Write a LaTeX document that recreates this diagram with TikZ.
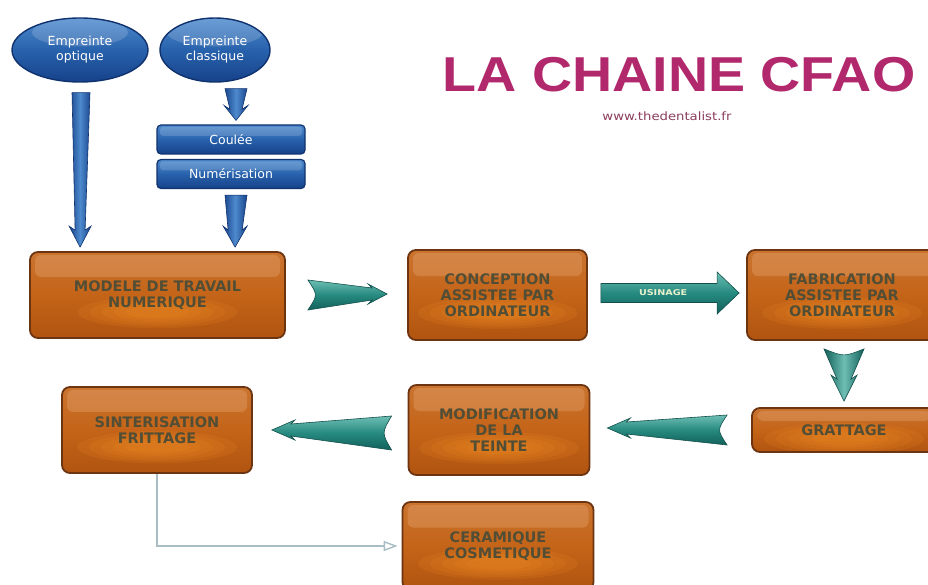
\documentclass[tikz,border=0pt]{standalone}
\usepackage{fontspec}
\setmainfont{Liberation Sans}
\newfontfamily\dvs{DejaVu Sans}
\usetikzlibrary{shapes.geometric,calc,arrows.meta}
\definecolor{oTop}{RGB}{202,116,48}
\definecolor{oMid}{RGB}{196,100,24}
\definecolor{oBot}{RGB}{176,84,16}
\definecolor{oEdge}{RGB}{108,52,16}
\definecolor{oGlow}{RGB}{240,140,36}
\definecolor{oGloss}{RGB}{232,170,120}
\definecolor{oText}{RGB}{82,78,54}
\definecolor{bLight}{RGB}{78,138,205}
\definecolor{bMid}{RGB}{40,98,172}
\definecolor{bDark}{RGB}{22,66,138}
\definecolor{bEdge}{RGB}{16,50,110}
\definecolor{tLight}{RGB}{110,190,180}
\definecolor{tMid}{RGB}{38,138,128}
\definecolor{tDark}{RGB}{18,96,90}
\definecolor{tEdge}{RGB}{20,80,75}
\definecolor{titleC}{RGB}{178,40,108}
\definecolor{urlC}{RGB}{140,62,92}
\definecolor{connC}{RGB}{168,190,196}
\definecolor{usiC}{RGB}{232,240,205}
\newcommand\htaperarrow[8]{%
  \shadedraw[#1] ($(#2)+(0,-#4)$) -- ($(#3)+({-1*(#8)*(#7)},-#5)$)
   -- ($(#3)+({-1*(#8)*(#7+4)},-#6)$) -- (#3)
   -- ($(#3)+({-1*(#8)*(#7+4)},#6)$) -- ($(#3)+({-1*(#8)*(#7)},#5)$)
   -- ($(#2)+(0,#4)$) .. controls ($(#2)+({10*(#8)},0)$) .. ($(#2)+(0,-#4)$) -- cycle;}
\newcommand\vtaperarrow[8]{%
  \shadedraw[#1] ($(#2)+(-#4,0)$) .. controls ($(#2)+(0,#8)$) .. ($(#2)+(#4,0)$)
   -- ($(#3)+(#5,-#7)$) -- ($(#3)+(#6,{-(#7+4)})$) -- (#3)
   -- ($(#3)+(-#6,{-(#7+4)})$) -- ($(#3)+(-#5,-#7)$) -- cycle;}
\tikzset{
  obox/.style={rectangle, rounded corners=8pt, draw=oEdge, line width=1.8pt,
    top color=oTop, bottom color=oBot, middle color=oMid, text=oText,
    font=\fontsize{14.5}{16}\selectfont\dvs\bfseries, align=center, inner sep=0pt,
    path picture={
      \coordinate (gc) at ($(path picture bounding box.south)!0.3!(path picture bounding box.north)$);
      \foreach \r in {1.0,0.85,0.7,0.55,0.4}
        \fill[oGlow, opacity=0.16] (gc) ellipse [x radius=80*\r, y radius=16*\r];
      \fill[oGloss, opacity=0.35, rounded corners=6pt]
        ($(path picture bounding box.north west)+(5,3)$) rectangle
        ($(path picture bounding box.east)!0.42!(path picture bounding box.north east)+(-5,0)$);
    }},
  bell/.style={ellipse, draw=bEdge, line width=1.4pt, top color=bLight, bottom color=bDark,
    middle color=bMid, text=white, font=\fontsize{12.5}{15}\selectfont\dvs, align=center, inner sep=1pt,
    path picture={
      \fill[white, opacity=0.16]
        ($(path picture bounding box.north)!0.45!(path picture bounding box.center)$)
        ellipse [x radius=48, y radius=14];
    }},
  bbox/.style={rectangle, rounded corners=4pt, draw=bEdge, line width=1.2pt,
    top color=bLight, bottom color=bDark, middle color=bMid, text=white,
    font=\fontsize{12.5}{15}\selectfont\dvs, inner sep=0pt,
    path picture={
      \fill[white, opacity=0.16, rounded corners=3pt]
        ($(path picture bounding box.north west)+(3,2)$) rectangle
        ($(path picture bounding box.east)!0.25!(path picture bounding box.north east)+(-3,0)$);
    }},
  barrow/.style={draw=bEdge, line width=0.6pt, left color=bDark, right color=bDark, middle color=bLight},
  tharrow/.style={draw=tEdge, line width=0.6pt, top color=tLight, bottom color=tDark, middle color=tMid},
  tvarrow/.style={draw=tEdge, line width=0.6pt, left color=tDark, right color=tDark, middle color=tLight},
  thinconn/.style={draw=connC, line width=1.6pt, -{Triangle[open, length=14pt, width=10pt, line width=1.4pt]}, shorten >=4pt}
}
\begin{document}
\begin{tikzpicture}[x=1pt, y=-1pt]
\fill[white] (0,0) rectangle (928,585);
\useasboundingbox (0,0) rectangle (928,585);

% title
\node[anchor=base, text=titleC, font=\fontsize{49}{55}\selectfont\bfseries, inner sep=0pt] (title) at (679,92) {\scalebox{1.135}[1]{LA CHAINE CFAO}};
\node[anchor=base, text=urlC, font=\fontsize{11.5}{13}\selectfont\dvs, inner sep=0pt] (url) at (667,121) {\scalebox{1.15}[1]{www.thedentalist.fr}};

% blue part
\node[bell, minimum width=136, minimum height=64] (ell1) at (80,50) {Empreinte\\optique};
\node[bell, minimum width=110, minimum height=64] (ell2) at (215,50) {Empreinte\\classique};
\node[bbox, minimum width=148, minimum height=29] (coulee) at (231,139.5) {Coulée};
\node[bbox, minimum width=148, minimum height=29] (numer) at (231,174) {Numérisation};

% orange boxes
\node[obox, minimum width=255, minimum height=86] (modele) at (157.5,295) {MODELE DE TRAVAIL\\NUMERIQUE};
\node[obox, minimum width=179, minimum height=90] (concep) at (497.5,295) {CONCEPTION\\ASSISTEE PAR\\ORDINATEUR};
\node[obox, minimum width=190, minimum height=90] (fab) at (842,295) {FABRICATION\\ASSISTEE PAR\\ORDINATEUR};
\node[obox, minimum width=184, minimum height=44] (gratt) at (844,430) {GRATTAGE};
\node[obox, minimum width=181, minimum height=90] (modif) at (499,430) {MODIFICATION\\DE LA\\TEINTE};
\node[obox, minimum width=190, minimum height=86] (sinter) at (157,430) {SINTERISATION\\FRITTAGE};
\node[obox, minimum width=191, minimum height=88] (ceram) at (498,546) {CERAMIQUE\\COSMETIQUE};

% blue arrows
\coordinate (b1t) at ($(ell1.south)+(1,10)$);
\coordinate (b1h) at ($(modele.north west)+(51,-4)$);
\vtaperarrow{barrow}{b1t}{b1h}{9}{5}{11}{17}{0}
\coordinate (b2t) at ($(ell2.south)+(21,6)$);
\coordinate (b2h) at ($(coulee.north)+(5,-4)$);
\vtaperarrow{barrow}{b2t}{b2h}{11}{6}{12}{11}{0}
\coordinate (b3t) at ($(numer.south)+(5,6)$);
\coordinate (b3h) at ($(modele.north west)+(206,-4)$);
\vtaperarrow{barrow}{b3t}{b3h}{11}{7}{12}{17}{0}

% teal arrows
\coordinate (a1t) at ($(modele.east)+(22,0)$);
\coordinate (a1h) at ($(concep.west)+(-20,-1)$);
\htaperarrow{tharrow}{a1t}{a1h}{15}{6}{10}{15}{1}

\coordinate (a2t) at ($(concep.east)+(13,-2)$);
\coordinate (a2h) at ($(fab.west)+(-7,-2)$);
\shadedraw[tharrow] ($(a2t)+(0,-9.5)$) -- ($(a2h)+(-22,-9.5)$) -- ($(a2h)+(-22,-21)$) -- (a2h)
  -- ($(a2h)+(-22,21)$) -- ($(a2h)+(-22,9.5)$) -- ($(a2t)+(0,9.5)$) -- cycle;
\node[text=usiC, font=\fontsize{8}{9}\selectfont\dvs\bfseries, inner sep=0pt] (usinage) at ($(a2t)!0.45!(a2h)$) {\scalebox{1.2}[1]{USINAGE}};

\coordinate (a3t) at ($(fab.south)+(2,8)$);
\coordinate (a3h) at ($(gratt.north)+(0,-6)$);
\vtaperarrow{tvarrow}{a3t}{a3h}{20}{7}{13}{22}{8}

\coordinate (a4t) at ($(gratt.west)+(-24,0)$);
\coordinate (a4h) at ($(modif.east)+(17,-2)$);
\htaperarrow{tharrow}{a4t}{a4h}{15}{6}{10}{19}{-1}

\coordinate (a5t) at ($(modif.west)+(-16,3)$);
\coordinate (a5h) at ($(sinter.east)+(19,0)$);
\htaperarrow{tharrow}{a5t}{a5h}{17}{6}{10}{19}{-1}

% thin connector
\draw[thinconn] (sinter.south) |- (ceram.west);
\end{tikzpicture}
\end{document}
